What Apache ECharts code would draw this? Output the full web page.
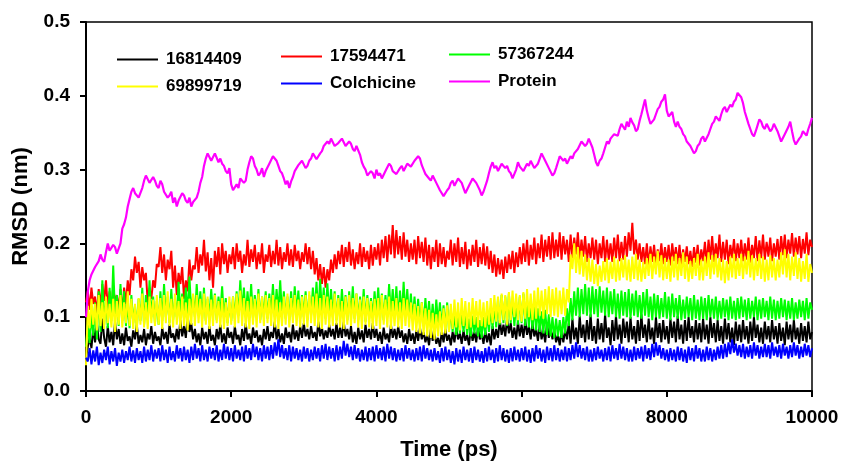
<!DOCTYPE html>
<html>
<head>
<meta charset="utf-8">
<script src="https://cdn.jsdelivr.net/npm/echarts@6/dist/echarts.min.js"></script>
<style>
  html, body { margin: 0; padding: 0; background: #fff; }
  #chart { width: 842px; height: 466px; }
</style>
</head>
<body>
<div id="chart"></div>
<script>
// sampling step of the traces (ps); value i is at time i * TIME_STEP
const TIME_STEP = 25;

const seriesNames = ["16814409", "17594471", "57367244", "69899719", "Colchicine", "Protein"];
const seriesColors = ["#000000", "#ff0000", "#00ff00", "#ffff00", "#0000ff", "#ff00ff"];
const xTicks = [0, 2000, 4000, 6000, 8000, 10000];
const yTicks = [0.0, 0.1, 0.2, 0.3, 0.4, 0.5];

// RMSD in pm (1/1000 nm), every 25 ps, one row = 500 ps
const rmsd16814409 = [
  45, 60, 72, 58, 85, 66, 92, 70, 64, 98, 72, 60, 88, 66, 80, 62, 94, 70, 84, 64,
  78, 62, 86, 68, 74, 60, 82, 70, 90, 64, 76, 66, 84, 62, 78, 70, 88, 64, 80, 68,
  74, 62, 86, 70, 80, 64, 90, 72, 78, 66, 84, 70, 96, 74, 88, 72, 102, 80, 92, 70,
  84, 66, 78, 62, 86, 70, 80, 64, 88, 68, 76, 62, 84, 70, 90, 66, 78, 64, 86, 72,
  80, 64, 88, 70, 76, 62, 84, 68, 92, 70, 78, 64, 86, 72, 82, 66, 76, 62, 84, 70,
  88, 68, 80, 72, 94, 70, 84, 66, 78, 64, 86, 72, 80, 66, 90, 70, 82, 68, 88, 72,
  92, 74, 84, 70, 88, 72, 80, 68, 94, 74, 86, 70, 82, 72, 90, 74, 84, 70, 92, 72,
  86, 72, 94, 74, 84, 70, 88, 66, 80, 64, 86, 70, 82, 66, 90, 72, 84, 70, 92, 72,
  84, 68, 80, 64, 86, 70, 78, 66, 90, 72, 84, 70, 88, 72, 82, 66, 78, 64, 84, 68,
  78, 64, 82, 68, 86, 70, 80, 66, 76, 62, 84, 68, 78, 64, 72, 60, 80, 66, 84, 68,
  76, 62, 80, 66, 86, 70, 78, 64, 82, 68, 76, 62, 84, 68, 80, 66, 86, 70, 78, 64,
  82, 66, 78, 62, 88, 70, 84, 72, 96, 76, 90, 74, 98, 78, 92, 72, 86, 70, 94, 74,
  90, 72, 96, 76, 88, 70, 92, 74, 84, 68, 90, 70, 82, 66, 92, 72, 86, 70, 82, 66,
  76, 62, 80, 66, 84, 70, 92, 64, 98, 70, 86, 64, 102, 72, 90, 66, 96, 70, 104, 68,
  88, 64, 98, 70, 92, 66, 104, 72, 86, 62, 96, 68, 102, 70, 90, 64, 98, 72, 94, 66,
  100, 70, 88, 64, 96, 68, 104, 72, 90, 66, 98, 70, 86, 64, 100, 72, 92, 66, 96, 70,
  88, 64, 98, 72, 94, 66, 102, 70, 90, 64, 96, 68, 100, 72, 88, 66, 96, 70, 92, 66,
  98, 70, 90, 64, 100, 72, 92, 66, 96, 68, 88, 64, 98, 70, 92, 66, 86, 62, 94, 68,
  90, 66, 96, 70, 88, 64, 94, 68, 100, 72, 90, 66, 86, 64, 94, 70, 88, 66, 96, 70,
  88, 64, 92, 68, 86, 62, 94, 70, 90, 66, 96, 70, 86, 64, 92, 68, 88, 66, 94, 70,
  80
];

const rmsd17594471 = [
  120, 135, 110, 140, 118, 128, 105, 138, 115, 145, 122, 150, 112, 135, 108, 142, 120, 130, 110, 138,
  105, 140, 118, 150, 130, 165, 150, 182, 160, 175, 140, 168, 150, 160, 120, 140, 125, 150, 140, 172,
  168, 195, 160, 185, 150, 178, 165, 190, 140, 170, 130, 160, 145, 168, 125, 150, 135, 178, 150, 170,
  165, 195, 160, 185, 170, 205, 162, 188, 150, 180, 140, 190, 168, 195, 158, 200, 172, 190, 160, 185,
  172, 195, 165, 200, 175, 190, 160, 185, 170, 205, 168, 192, 175, 198, 165, 188, 172, 200, 160, 185,
  175, 198, 168, 190, 172, 205, 170, 195, 165, 188, 175, 200, 170, 192, 168, 198, 176, 190, 165, 188,
  175, 200, 172, 195, 165, 190, 158, 180, 150, 172, 145, 168, 140, 165, 150, 178, 160, 185, 165, 190,
  172, 198, 168, 195, 175, 202, 170, 192, 165, 188, 172, 200, 168, 195, 175, 190, 165, 198, 170, 195,
  178, 200, 170, 205, 180, 210, 175, 212, 185, 225, 180, 218, 185, 210, 178, 215, 182, 205, 175, 200,
  178, 205, 172, 210, 180, 202, 175, 208, 170, 198, 165, 195, 175, 205, 168, 200, 172, 195, 168, 190,
  178, 205, 170, 200, 175, 208, 168, 195, 172, 202, 165, 192, 170, 198, 175, 205, 168, 195, 172, 200,
  170, 196, 165, 190, 160, 185, 155, 180, 158, 178, 152, 182, 160, 185, 165, 190, 160, 188, 168, 195,
  172, 200, 175, 205, 170, 198, 178, 208, 172, 200, 180, 212, 175, 205, 182, 210, 178, 215, 180, 205,
  182, 215, 178, 210, 185, 205, 175, 212, 180, 208, 185, 215, 178, 205, 182, 210, 175, 200, 180, 208,
  178, 205, 172, 200, 180, 210, 175, 205, 178, 200, 175, 208, 180, 212, 176, 202, 178, 210, 182, 215,
  190, 228, 185, 205, 178, 200, 175, 195, 172, 200, 170, 196, 175, 198, 170, 192, 176, 200, 172, 195,
  175, 198, 170, 200, 176, 195, 172, 198, 170, 192, 175, 196, 172, 190, 168, 195, 174, 198, 170, 192,
  176, 202, 172, 205, 178, 210, 175, 200, 180, 212, 175, 202, 178, 205, 172, 198, 180, 206, 176, 200,
  180, 205, 176, 200, 178, 208, 174, 198, 180, 210, 176, 204, 180, 212, 178, 202, 182, 208, 176, 200,
  182, 206, 178, 210, 184, 212, 180, 205, 186, 214, 182, 208, 185, 210, 180, 206, 186, 215, 184, 205,
  195
];

const rmsd57367244 = [
  60, 90, 65, 105, 75, 120, 70, 135, 80, 150, 90, 125, 85, 140, 95, 170, 100, 130, 88, 145,
  95, 135, 88, 120, 85, 130, 92, 115, 86, 125, 95, 140, 90, 130, 96, 150, 100, 128, 92, 122,
  90, 135, 95, 145, 100, 128, 92, 138, 96, 125, 100, 148, 105, 132, 98, 140, 102, 155, 106, 130,
  100, 145, 104, 135, 98, 140, 95, 125, 100, 138, 102, 132, 96, 128, 104, 142, 98, 126, 92, 120,
  95, 128, 98, 135, 102, 150, 106, 140, 100, 135, 104, 145, 98, 130, 102, 138, 96, 128, 100, 135,
  98, 132, 104, 145, 100, 138, 106, 150, 102, 135, 98, 128, 96, 135, 100, 142, 104, 136, 98, 130,
  100, 135, 96, 130, 102, 140, 106, 148, 100, 152, 104, 140, 98, 146, 102, 138, 100, 135, 96, 130,
  98, 138, 102, 130, 96, 135, 100, 142, 98, 132, 96, 128, 100, 138, 94, 130, 98, 126, 100, 135,
  102, 140, 98, 132, 96, 130, 100, 145, 104, 138, 100, 142, 96, 136, 100, 148, 102, 138, 98, 132,
  96, 128, 92, 125, 90, 120, 88, 126, 92, 122, 88, 118, 86, 124, 90, 120, 86, 116, 84, 120,
  82, 110, 80, 105, 76, 100, 78, 108, 80, 104, 76, 98, 74, 102, 78, 100, 74, 96, 72, 100,
  76, 104, 80, 112, 84, 118, 86, 125, 90, 130, 92, 128, 88, 132, 92, 125, 88, 120, 90, 128,
  92, 132, 88, 124, 86, 118, 84, 115, 82, 112, 80, 108, 78, 110, 76, 104, 74, 100, 72, 98,
  74, 96, 72, 100, 78, 112, 88, 126, 96, 135, 102, 140, 100, 138, 104, 145, 102, 140, 100, 142,
  104, 138, 100, 142, 106, 136, 102, 140, 100, 135, 104, 138, 100, 132, 98, 136, 102, 134, 100, 138,
  98, 132, 102, 136, 100, 130, 98, 134, 102, 138, 100, 128, 96, 132, 100, 130, 98, 126, 100, 134,
  98, 128, 96, 132, 100, 126, 98, 130, 96, 124, 98, 128, 100, 126, 96, 130, 98, 124, 96, 128,
  98, 126, 96, 130, 100, 125, 98, 128, 96, 122, 98, 126, 100, 124, 96, 128, 98, 122, 96, 126,
  98, 128, 100, 124, 96, 126, 98, 122, 100, 128, 96, 124, 98, 126, 100, 122, 96, 128, 98, 124,
  96, 122, 98, 126, 100, 124, 96, 122, 98, 126, 96, 120, 98, 124, 100, 122, 96, 126, 98, 120,
  110
];

const rmsd69899719 = [
  35, 115, 85, 125, 90, 118, 82, 130, 88, 120, 84, 128, 92, 118, 86, 125, 80, 122, 90, 130,
  86, 120, 92, 135, 88, 125, 84, 118, 80, 126, 90, 132, 86, 120, 84, 128, 92, 124, 88, 130,
  90, 126, 84, 130, 92, 135, 88, 125, 86, 132, 90, 122, 84, 128, 88, 120, 82, 125, 90, 132,
  88, 130, 92, 125, 86, 132, 90, 128, 84, 124, 88, 130, 92, 122, 86, 126, 84, 120, 88, 128,
  90, 128, 86, 132, 92, 136, 88, 126, 86, 122, 84, 128, 90, 125, 86, 132, 92, 128, 88, 130,
  92, 126, 88, 130, 86, 124, 84, 120, 88, 128, 90, 132, 86, 126, 92, 130, 88, 124, 86, 128,
  90, 130, 86, 135, 92, 128, 88, 132, 86, 126, 84, 130, 90, 128, 86, 124, 88, 132, 90, 126,
  86, 122, 84, 128, 90, 130, 88, 126, 92, 132, 86, 124, 84, 128, 90, 126, 86, 122, 84, 125,
  88, 126, 84, 130, 90, 124, 86, 128, 84, 122, 88, 126, 86, 120, 84, 126, 88, 124, 86, 120,
  82, 118, 80, 115, 78, 120, 76, 112, 74, 110, 72, 106, 70, 104, 74, 108, 76, 112, 78, 116,
  80, 118, 84, 124, 86, 120, 82, 126, 88, 122, 84, 120, 86, 126, 90, 122, 86, 124, 88, 120,
  86, 122, 90, 126, 92, 130, 94, 128, 92, 132, 96, 130, 90, 134, 96, 136, 100, 132, 96, 130,
  94, 134, 98, 138, 100, 132, 96, 136, 98, 140, 102, 136, 98, 138, 104, 142, 100, 138, 102, 140,
  100, 136, 104, 140, 102, 138, 120, 185, 165, 200, 160, 195, 158, 190, 155, 185, 150, 180, 148, 178,
  145, 172, 142, 170, 148, 176, 150, 180, 146, 175, 152, 182, 148, 178, 150, 180, 154, 184, 150, 178,
  148, 182, 152, 186, 150, 178, 148, 175, 152, 180, 156, 186, 152, 182, 158, 190, 154, 184, 150, 180,
  152, 178, 148, 182, 154, 186, 150, 180, 156, 188, 152, 182, 148, 176, 152, 180, 156, 186, 150, 178,
  150, 182, 156, 188, 152, 184, 158, 186, 154, 180, 150, 178, 146, 176, 150, 182, 154, 186, 152, 180,
  156, 186, 152, 182, 158, 190, 154, 184, 150, 180, 156, 186, 152, 182, 148, 178, 150, 184, 154, 180,
  150, 178, 154, 188, 158, 192, 154, 186, 150, 182, 156, 188, 152, 180, 148, 176, 152, 186, 148, 172,
  160
];

const rmsdColchicine = [
  45, 40, 58, 36, 55, 40, 60, 35, 52, 38, 56, 42, 60, 36, 54, 40, 58, 34, 52, 40,
  56, 38, 54, 42, 60, 40, 55, 38, 58, 42, 54, 38, 60, 40, 56, 42, 62, 40, 56, 44,
  58, 40, 62, 42, 56, 38, 60, 42, 54, 40, 62, 44, 58, 40, 60, 42, 56, 38, 60, 42,
  64, 44, 58, 40, 62, 42, 56, 40, 60, 44, 58, 42, 62, 40, 56, 42, 64, 44, 60, 42,
  58, 40, 62, 44, 56, 42, 60, 40, 62, 44, 58, 42, 64, 46, 60, 42, 58, 40, 62, 44,
  60, 42, 62, 44, 66, 48, 70, 46, 62, 44, 58, 42, 62, 40, 60, 44, 58, 42, 56, 40,
  60, 44, 58, 40, 56, 42, 60, 44, 58, 40, 62, 44, 64, 42, 60, 44, 58, 40, 62, 42,
  60, 44, 68, 48, 64, 46, 60, 42, 62, 44, 58, 40, 56, 42, 60, 40, 58, 42, 60, 40,
  62, 44, 58, 42, 60, 40, 64, 44, 60, 42, 58, 40, 56, 42, 58, 40, 62, 44, 58, 42,
  56, 40, 58, 42, 60, 40, 62, 44, 58, 42, 56, 40, 58, 42, 54, 38, 58, 40, 60, 42,
  56, 38, 54, 36, 58, 40, 56, 38, 60, 42, 56, 40, 58, 38, 60, 42, 56, 40, 54, 38,
  58, 40, 60, 42, 56, 38, 58, 40, 62, 42, 58, 40, 56, 38, 58, 40, 60, 42, 56, 40,
  58, 42, 60, 40, 56, 38, 58, 40, 62, 44, 58, 40, 56, 38, 60, 42, 58, 40, 62, 42,
  58, 40, 56, 42, 60, 40, 58, 42, 62, 44, 66, 46, 62, 44, 58, 42, 60, 40, 56, 40,
  58, 42, 60, 44, 56, 40, 58, 42, 60, 40, 62, 44, 58, 42, 64, 44, 60, 42, 58, 40,
  56, 40, 60, 42, 58, 44, 60, 40, 62, 44, 58, 42, 64, 46, 66, 48, 62, 44, 58, 42,
  56, 40, 58, 42, 56, 40, 60, 42, 58, 40, 56, 38, 60, 42, 58, 40, 62, 44, 58, 40,
  56, 40, 60, 42, 58, 40, 56, 42, 60, 44, 62, 44, 64, 46, 66, 50, 70, 52, 64, 48,
  62, 46, 64, 44, 60, 46, 62, 44, 66, 48, 62, 44, 60, 46, 64, 46, 62, 44, 66, 48,
  60, 46, 62, 44, 64, 48, 60, 44, 62, 46, 66, 48, 62, 44, 60, 46, 64, 48, 62, 46,
  58
];

const rmsdProtein = [
  100, 135, 150, 158, 160, 168, 170, 176, 185, 178, 175, 188, 200, 190, 190, 198, 195, 186, 185, 200,
  220, 226, 235, 250, 260, 270, 275, 268, 270, 262, 260, 275, 285, 292, 290, 282, 280, 290, 285, 278,
  275, 285, 280, 270, 270, 262, 265, 270, 255, 262, 250, 258, 260, 268, 265, 258, 255, 262, 250, 256,
  255, 262, 270, 282, 290, 305, 315, 322, 320, 312, 310, 322, 320, 310, 315, 308, 305, 298, 295, 302,
  280, 272, 270, 280, 275, 288, 290, 282, 285, 300, 310, 318, 315, 305, 300, 292, 295, 302, 290, 298,
  300, 308, 310, 318, 320, 312, 305, 298, 295, 288, 280, 285, 275, 284, 290, 298, 300, 306, 305, 312,
  310, 302, 305, 312, 315, 322, 320, 314, 315, 322, 325, 332, 330, 338, 335, 342, 340, 332, 330, 336,
  335, 342, 340, 332, 330, 338, 335, 328, 325, 332, 330, 320, 310, 304, 300, 292, 290, 298, 295, 288,
  300, 292, 295, 288, 290, 298, 300, 308, 305, 298, 300, 294, 295, 302, 305, 298, 300, 308, 310, 304,
  305, 312, 310, 318, 315, 306, 300, 294, 295, 288, 285, 292, 290, 282, 280, 272, 270, 264, 265, 272,
  275, 282, 285, 278, 280, 288, 290, 282, 275, 268, 270, 278, 280, 288, 290, 282, 280, 272, 265, 270,
  270, 285, 295, 304, 310, 302, 305, 298, 300, 308, 310, 302, 305, 298, 295, 288, 290, 300, 310, 304,
  305, 298, 300, 308, 305, 312, 310, 302, 300, 308, 315, 322, 320, 312, 310, 302, 300, 292, 295, 302,
  310, 318, 320, 312, 315, 308, 310, 318, 315, 322, 320, 328, 330, 338, 340, 332, 335, 342, 340, 330,
  320, 310, 305, 312, 315, 322, 330, 338, 335, 342, 340, 348, 350, 346, 355, 362, 360, 354, 365, 358,
  370, 364, 360, 352, 355, 366, 375, 385, 395, 380, 370, 362, 360, 368, 375, 382, 385, 392, 395, 402,
  380, 372, 370, 378, 365, 358, 365, 358, 355, 348, 345, 338, 340, 332, 330, 322, 325, 332, 335, 342,
  345, 338, 340, 348, 355, 362, 365, 372, 370, 366, 375, 382, 385, 378, 380, 388, 385, 392, 395, 404,
  405, 398, 390, 378, 370, 362, 355, 348, 345, 352, 360, 368, 365, 358, 355, 362, 360, 352, 355, 362,
  360, 352, 345, 338, 340, 348, 350, 358, 365, 352, 340, 334, 335, 342, 345, 352, 350, 346, 355, 362,
  370
];

const seriesValues = [rmsd16814409, rmsd17594471, rmsd57367244, rmsd69899719, rmsdColchicine, rmsdProtein];
const seriesWidths = [2, 2, 2, 2, 2, 2.2];

const FONT = "'Liberation Sans', Arial, sans-serif";

// [time in ps, RMSD in nm]
function toPairs(valuesPm) {
  return valuesPm.map((v, i) => [i * TIME_STEP, v / 1000]);
}

function makeLegend(names, left, top) {
  return {
    data: names,
    left: left,
    top: top,
    orient: "vertical",
    itemWidth: 41,
    itemHeight: 14,
    itemGap: 10,
    icon: "path://M0,6 L41,6 L41,8 L0,8 Z",
    textStyle: { fontFamily: FONT, fontWeight: "bold", fontSize: 17, color: "#000", padding: [0, 0, 0, 3] },
  };
}

const chart = echarts.init(document.getElementById("chart"), null, { renderer: "canvas" });

const option = {
  animation: false,
  backgroundColor: "#fff",
  grid: {
    left: 86,
    right: 30,
    top: 22,
    bottom: 72,
    show: true,
    borderColor: "#000",
    borderWidth: 1.5,
  },
  legend: [
    makeLegend([seriesNames[0], seriesNames[3]], 112, 46),
    makeLegend([seriesNames[1], seriesNames[4]], 276, 43),
    makeLegend([seriesNames[2], seriesNames[5]], 444, 41),
  ],
  xAxis: {
    type: "value",
    min: xTicks[0],
    max: xTicks[xTicks.length - 1],
    interval: 2000,
    name: "Time (ps)",
    nameLocation: "middle",
    nameGap: 48,
    nameTextStyle: { fontFamily: FONT, fontWeight: "bold", fontSize: 22, color: "#000" },
    axisLine: { show: true, lineStyle: { color: "#000", width: 2 } },
    axisTick: { show: true, inside: false, length: 6, lineStyle: { color: "#000", width: 2 } },
    axisLabel: {
      margin: 17,
      fontFamily: FONT,
      fontWeight: "bold",
      fontSize: 19,
      color: "#000",
      formatter: (v) => String(v),
    },
    splitLine: { show: false },
  },
  yAxis: {
    type: "value",
    min: yTicks[0],
    max: yTicks[yTicks.length - 1],
    interval: 0.1,
    name: "RMSD (nm)",
    nameLocation: "middle",
    nameGap: 54,
    nameTextStyle: { fontFamily: FONT, fontWeight: "bold", fontSize: 22, color: "#000" },
    axisLine: { show: true, lineStyle: { color: "#000", width: 2 } },
    axisTick: { show: true, inside: false, length: 6, lineStyle: { color: "#000", width: 2 } },
    axisLabel: {
      margin: 16,
      fontFamily: FONT,
      fontWeight: "bold",
      fontSize: 19,
      color: "#000",
      formatter: (v) => v.toFixed(1),
    },
    splitLine: { show: false },
  },
  series: seriesNames.map((name, i) => ({
    name: name,
    type: "line",
    data: toPairs(seriesValues[i]),
    symbol: "none",
    color: seriesColors[i],
    lineStyle: { color: seriesColors[i], width: seriesWidths[i] },
    emphasis: { disabled: true },
  })),
};

chart.setOption(option);
</script>
</body>
</html>
